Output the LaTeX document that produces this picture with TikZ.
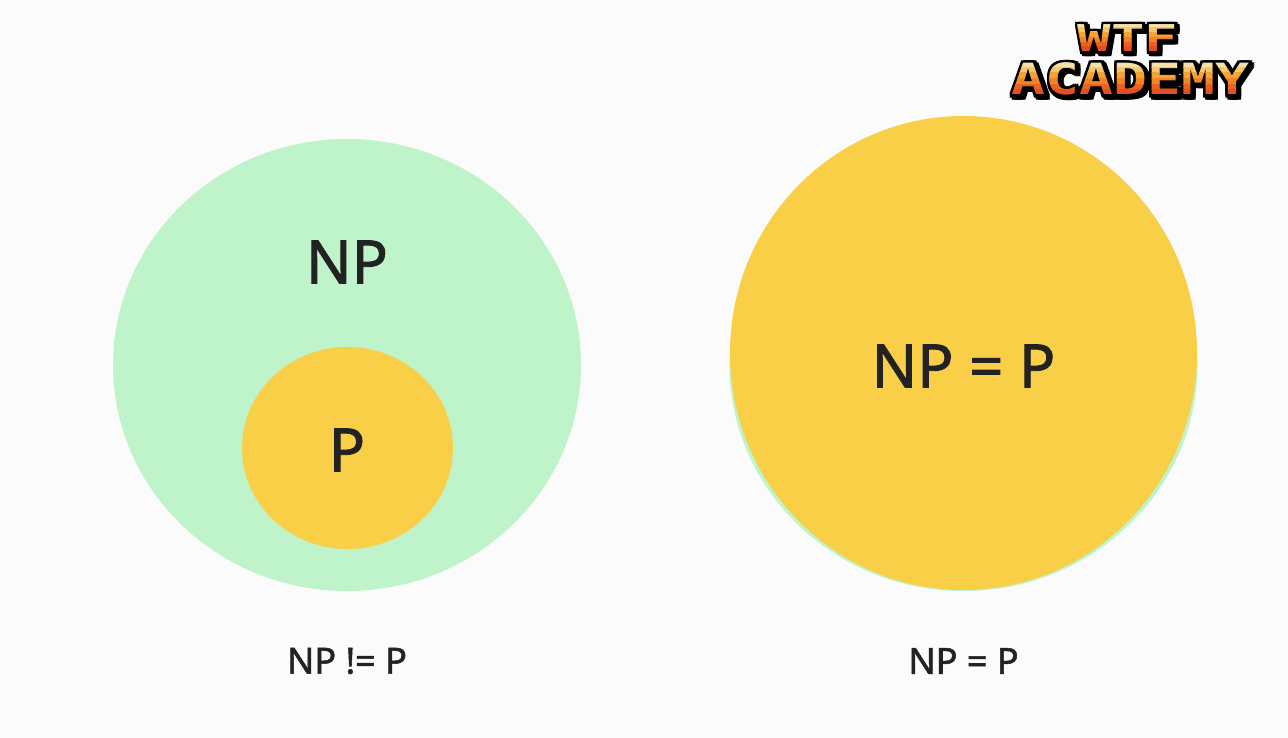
\documentclass[tikz,border=0pt]{standalone}
\usepackage{fontspec}
\setmainfont{Noto Sans}[FakeBold=1.5]
\newfontfamily\wtffont[FakeStretch=1.5]{DejaVu Sans Mono Bold}
\newfontfamily\acafont[FakeStretch=1.31]{DejaVu Sans Mono Bold}
\newfontfamily\wtfblack[FakeBold=4,FakeStretch=1.5]{DejaVu Sans Mono Bold}
\newfontfamily\acablack[FakeBold=4,FakeStretch=1.31]{DejaVu Sans Mono Bold}
\definecolor{bgc}{HTML}{FBFBFB}
\definecolor{npgreen}{HTML}{BFF3CA}
\definecolor{pyellow}{HTML}{F8CF47}
\definecolor{inkc}{HTML}{222222}
\definecolor{bandA}{HTML}{F6E0AC}
\definecolor{bandB}{HTML}{F6C766}
\definecolor{bandC}{HTML}{F4A436}
\definecolor{bandD}{HTML}{F08426}
\definecolor{bandE}{HTML}{EA6322}
\definecolor{bandF}{HTML}{E44E20}
\tikzset{
  setnp/.style={draw=none,fill=npgreen},
  setp/.style={draw=none,fill=pyellow},
  biglabel/.style={text=inkc,font=\fontsize{60}{60}\selectfont,inner sep=0pt},
  caption/.style={text=inkc,font=\fontsize{36}{36}\selectfont,inner sep=0pt},
}
% #1 x, #2 y, #3 font size, #4 back font, #5 face font, #6 text, #7 letter height
\newcommand{\logoline}[7]{%
  \foreach \dx/\dy in {-2/-2,0/-2,2/-2,-2/0,0/0,2/0,-2/2,0/2,2/2,4/4,2/4,4/2,0/4,4/0}
    \node[text=black,inner sep=0pt,font=#4\fontsize{#3}{#3}\selectfont] at (#1+\dx,#2+\dy) {#6};
  \foreach \bc/\ba/\bb in {bandA/-.1/.14,bandB/.14/.30,bandC/.30/.48,bandD/.48/.66,bandE/.66/.82,bandF/.82/1.1}{
    \begin{scope}
      \clip (#1-150,#2-#7/2+\ba*#7) rectangle (#1+150,#2-#7/2+\bb*#7);
      \node[text=\bc,inner sep=0pt,font=#5\fontsize{#3}{#3}\selectfont] at (#1,#2) {#6};
    \end{scope}}%
}
\begin{document}
\begin{tikzpicture}[x=1pt,y=-1pt]
\useasboundingbox (0,0) rectangle (1288,738);
\fill[bgc] (0,0) rectangle (1288,738);
% left diagram
\fill[setnp] (347,365) ellipse [x radius=234,y radius=226];
\fill[setp] (347.5,448) ellipse [x radius=105.5,y radius=101];
\node[biglabel] (np) at (347,262) {NP};
\node[biglabel] (p) at (347,450) {P};
\node[caption] (capa) at (347,661) {NP != P};
% right diagram
\fill[setnp] (963.5,365) ellipse [x radius=234,y radius=226];
\fill[setp] (963.5,353) ellipse [x radius=233.5,y radius=237];
\node[biglabel] (eq) at (963.5,366) {NP = P};
\node[caption] (capb) at (963.5,661) {NP = P};
% logo
\logoline{1128}{38}{37}{\wtfblack}{\wtffont}{WTF}{28}
\logoline{1130.5}{79}{43}{\acablack}{\acafont}{ACADEMY}{32}
\end{tikzpicture}
\end{document}
